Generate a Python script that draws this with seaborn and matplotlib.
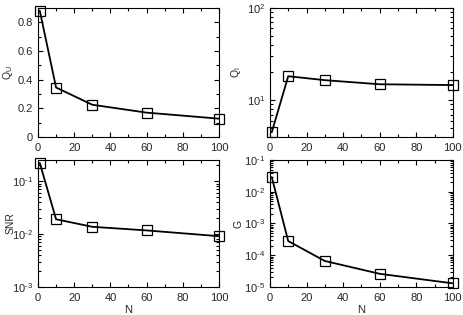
import numpy as np
import pandas as pd
import matplotlib
matplotlib.use('Agg')
import matplotlib.pyplot as plt
import seaborn as sns
from matplotlib.ticker import MultipleLocator, LogLocator, NullFormatter

n_vals = [1, 10, 30, 60, 100]
q_u = [0.88, 0.345, 0.225, 0.17, 0.128]
q_i = [4.5, 18.2, 16.5, 14.9, 14.6]
snr = [0.22, 0.019, 0.0137, 0.0117, 0.0091]
g_vals = [0.029, 2.8e-4, 6.6e-5, 2.6e-5, 1.3e-5]

sns.set_style('ticks')
plt.rcParams['font.family'] = ['Liberation Sans', 'DejaVu Sans']
plt.rcParams['mathtext.fontset'] = 'custom'
plt.rcParams['mathtext.rm'] = 'Liberation Sans'
plt.rcParams['mathtext.it'] = 'Liberation Sans:italic'
plt.rcParams['mathtext.bf'] = 'Liberation Sans:bold'
plt.rcParams['font.size'] = 8


def log_fmt(v, pos):
    e = int(round(np.log10(v)))
    if e < 0:
        return r'$\mathregular{10^{\text{-}%d}}$' % (-e)
    return r'$\mathregular{10^{%d}}$' % e


fig = plt.figure(figsize=(4.63, 3.15), dpi=100)
boxes = [[0.082, 0.565, 0.391, 0.410],
         [0.583, 0.565, 0.395, 0.410],
         [0.082, 0.089, 0.391, 0.403],
         [0.583, 0.089, 0.395, 0.403]]
series = [(q_u, r'Q$_\mathregular{U}$', False, (0, 0.9)),
          (q_i, r'Q$_\mathregular{I}$', True, (4, 100)),
          (snr, 'SNR', True, (1e-3, 0.25)),
          (g_vals, 'G', True, (1e-5, 1e-1))]

for i, (vals, lab, logy, lims) in enumerate(series):
    ax = fig.add_axes(boxes[i])
    df = pd.DataFrame({'N': n_vals, 'v': vals})
    sns.lineplot(data=df, x='N', y='v', ax=ax, color='black', lw=1.3,
                 marker='s', markersize=7, markerfacecolor='none',
                 markeredgecolor='black', markeredgewidth=0.9, clip_on=False)
    if logy:
        ax.set_yscale('log')
        ax.yaxis.set_major_locator(LogLocator(base=10, numticks=20))
        ax.yaxis.set_major_formatter(log_fmt)
        ax.yaxis.set_minor_locator(LogLocator(base=10, subs=np.arange(2, 10), numticks=20))
        ax.yaxis.set_minor_formatter(NullFormatter())
    else:
        ax.yaxis.set_major_locator(MultipleLocator(0.2))
        ax.yaxis.set_minor_locator(MultipleLocator(0.1))
        ax.yaxis.set_major_formatter(lambda v, p: '0' if v == 0 else f'{v:.1f}')
    ax.set_ylim(*lims)
    ax.set_xlim(0, 100)
    ax.xaxis.set_major_locator(MultipleLocator(20))
    ax.xaxis.set_minor_locator(MultipleLocator(10))
    ax.tick_params(which='both', direction='in', top=True, right=True,
                   labelsize=8, width=0.8, color='black')
    ax.tick_params(which='major', length=3.7)
    ax.tick_params(which='minor', length=2)
    ax.tick_params(axis='x', pad=4.5)
    for s in ax.spines.values():
        s.set_linewidth(0.8)
        s.set_color('black')
    ax.set_ylabel(lab, fontsize=7.5)
    ax.yaxis.set_label_coords(-0.145 if i % 2 else -0.125, 0.5)
    ax.set_xlabel('N' if i >= 2 else '', fontsize=8, labelpad=1)

fig.savefig('out.png', dpi=100)
